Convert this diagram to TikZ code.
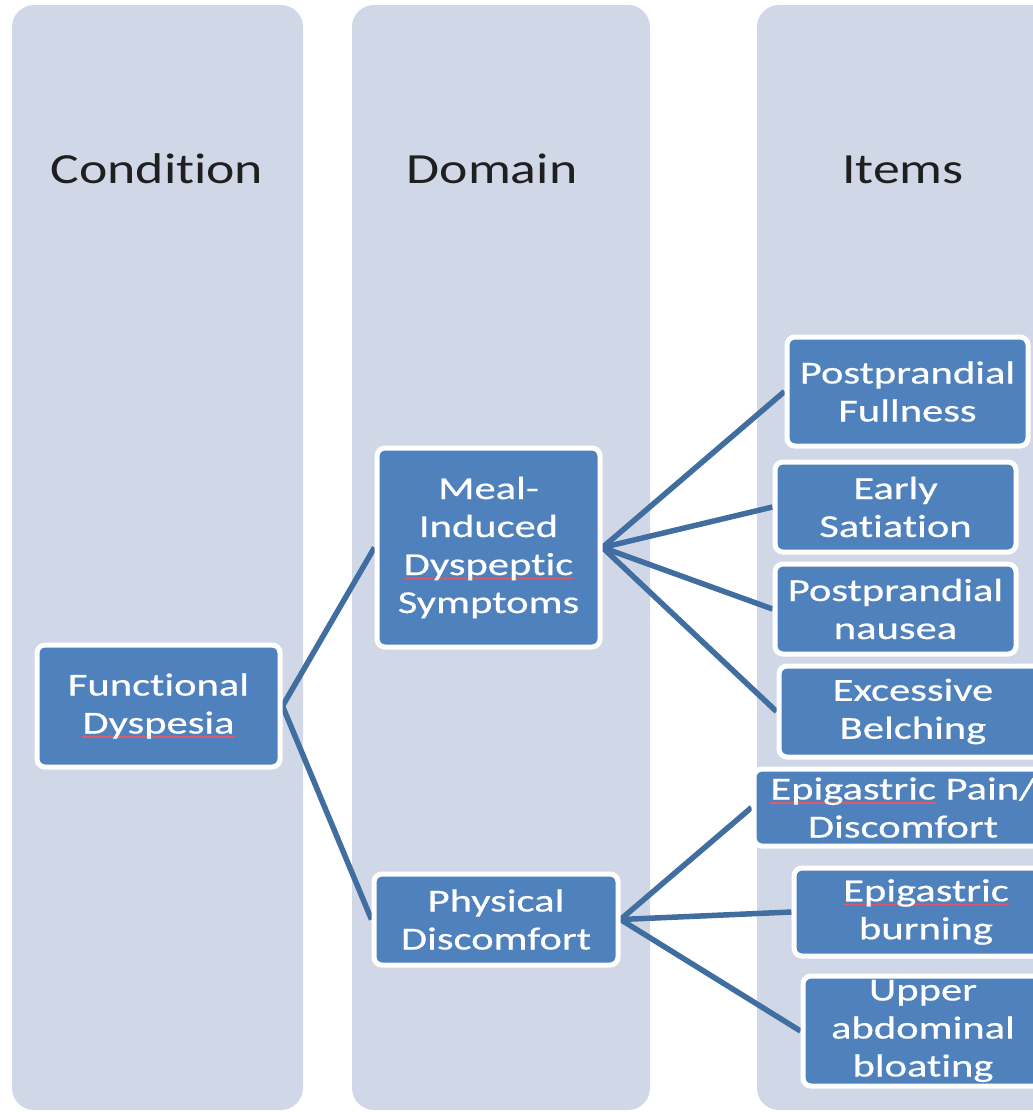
\documentclass[tikz,border=0pt]{standalone}
\usepackage{fontspec}
\newfontfamily\headfont[FakeStretch=1.25,Ligatures=NoCommon]{Carlito}
\newfontfamily\boxfont[FakeStretch=1.33,FakeBold=0.5,Ligatures=NoCommon]{Carlito}
\definecolor{colfill}{RGB}{208,216,232}
\definecolor{boxfill}{RGB}{79,129,189}
\definecolor{linkblue}{RGB}{65,110,160}
\definecolor{squigred}{RGB}{222,90,110}
% thin red underline under flagged words
\newlength\squiglen
\newcommand\squig[1]{\settowidth\squiglen{#1}\rlap{\textcolor{squigred}{\rule[-4pt]{\squiglen}{1.2pt}}}#1}
\pgfdeclarelayer{back}
\pgfdeclarelayer{links}
\pgfsetlayers{back,links,main}

\begin{document}
\begin{tikzpicture}[x=1pt,y=-1pt,
  column/.style={fill=colfill, rounded corners=22pt},
  header/.style={anchor=base, font=\headfont\fontsize{43}{52}\selectfont, text=black!88},
  item/.style={rectangle, rounded corners=8pt, fill=boxfill, draw=white, line width=5pt, inner sep=0pt},
  boxtext/.style={text=white, align=center, inner sep=0pt, font=\boxfont\fontsize{32}{38}\selectfont},
  link/.style={draw=linkblue, line width=5.5pt}
]
\useasboundingbox (0,0) rectangle (1033,1112);

% background columns
\begin{pgfonlayer}{back}
  \fill[white] (0,0) rectangle (1033,1112);
  \fill[column] (12,5) rectangle (303,1110);
  \fill[column] (352,5) rectangle (650,1110);
  \fill[column] (757,5) rectangle (1060,1110);
\end{pgfonlayer}

% column headings
\node[header] (hcond) at (157,183) {Condition};
\node[header] (hdom)  at (492,183) {Domain};
\node[header] (hitem) at (903,183) {Items};

% condition
\node[item, minimum width=243pt, minimum height=122pt,
  label={[boxtext]center:{Functional\\\squig{Dyspesia}}}] (fd) at (158.5,706) {};

% domains
\node[item, minimum width=223pt, minimum height=199pt,
  label={[boxtext]center:{Meal-\\Induced\\\squig{Dyspeptic}\\Symptoms}}] (meal) at (488.5,547.5) {};
\node[item, minimum width=244pt, minimum height=91pt,
  label={[boxtext]center:{Physical\\Discomfort}}] (phys) at (496,919.5) {};

% items
\node[item, minimum width=241pt, minimum height=109pt,
  label={[boxtext]center:{Postprandial\\Fullness}}] (pf) at (907.5,391.5) {};
\node[item, minimum width=241pt, minimum height=90pt,
  label={[boxtext]center:{Early\\Satiation}}] (es) at (895.5,507) {};
\node[item, minimum width=241pt, minimum height=90pt,
  label={[boxtext]center:{Postprandial\\nausea}}] (pn) at (895.5,609) {};
\node[item, minimum width=268pt, minimum height=91pt,
  label={[boxtext]center:{Excessive\\Belching}}] (eb) at (913,711.5) {};
\node[item, minimum width=298pt, minimum height=77pt,
  label={[boxtext]center:{\squig{Epigastric} Pain/\\Discomfort}}] (ep) at (903,807.5) {};
\node[item, minimum width=264pt, minimum height=88pt,
  label={[boxtext]center:{\squig{Epigastric}\\burning}}] (eburn) at (926,912) {};
\node[item, minimum width=240pt, minimum height=110pt,
  label={[boxtext]center:{Upper\\abdominal\\bloating}}] (ub) at (923,1031) {};

% connectors
\begin{pgfonlayer}{links}
  \draw[link] (fd.east) -- (meal.west);
  \draw[link] (fd.east) -- (phys.west);
  \draw[link] (meal.east) -- (pf.west);
  \draw[link] (meal.east) -- (es.west);
  \draw[link] (meal.east) -- (pn.west);
  \draw[link] (meal.east) -- (eb.west);
  \draw[link] (phys.east) -- (ep.west);
  \draw[link] (phys.east) -- (eburn.west);
  \draw[link] (phys.east) -- (ub.west);
\end{pgfonlayer}
\end{tikzpicture}
\end{document}
